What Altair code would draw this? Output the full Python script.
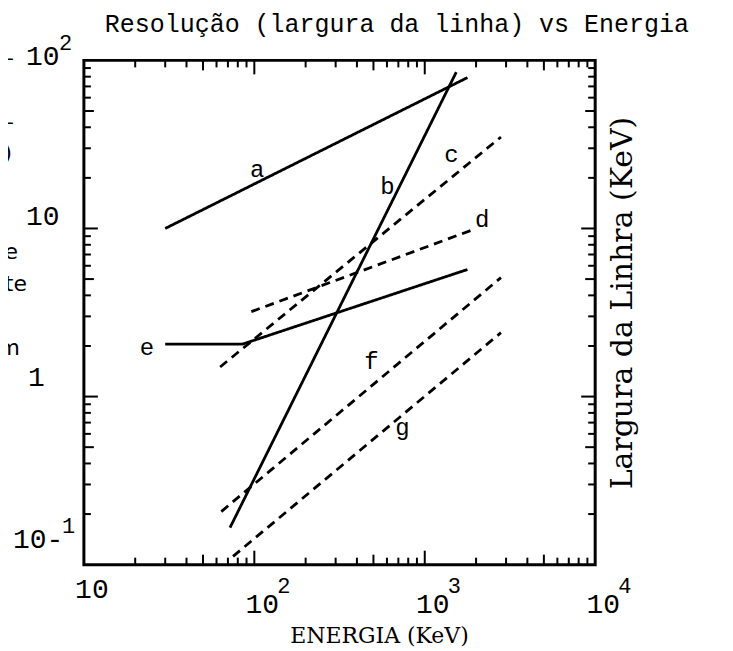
import altair as alt
import pandas as pd

# ---------------- data ----------------
series_names = ["a", "b", "c", "d", "e", "f", "g"]
series_style = ["solid", "solid", "dashed", "dashed", "solid", "dashed", "dashed"]
energy_a = [30, 1780]
width_a = [10, 79]
energy_b = [72, 1530]
width_b = [0.166, 85]
energy_c = [63, 2800]
width_c = [1.5, 35]
energy_d = [96, 1900]
width_d = [3.2, 9.8]
energy_e = [30, 85, 1780]
width_e = [2.05, 2.05, 5.7]
energy_f = [64, 2800]
width_f = [0.207, 5.1]
energy_g = [75, 2800]
width_g = [0.112, 2.4]

label_energy = [104, 604, 1432, 2173, 23.4, 486, 739]
label_width = [22.2, 17.6, 27.3, 11.2, 1.95, 1.61, 0.65]

x_label_values = [10, 100, 1000, 10000]
x_label_sup = ["", "2", "3", "4"]
y_label_values = [100, 10, 1, 0.1]
y_label_base = ["10", "10", "1", "10-"]
y_label_sup = ["2", "", "", "1"]

x_minor = [m * 10 ** k for k in range(1, 4) for m in (2, 3, 4, 6, 7, 8, 9)]
x_mid = [50, 500, 5000]
x_major = [100, 1000]
y_minor = [round(m * 10.0 ** k, 3) for k in range(-1, 2) for m in (2, 3, 4, 6, 7, 8, 9)]
y_mid = [0.5, 5, 50]
y_major = [1, 10]

title_text = "Resolução (largura da linha) vs Energia"
x_title = "ENERGIA (KeV)"
y_title = "Largura da Linhra (KeV)"
fragments = ["–", "–", ")", "e", "te", "m"]

# ---------------- layout / style ----------------
PW, PH = 512, 505
XMIN, XMAX, YMIN, YMAX = 10, 10000, 0.1, 100
MONO = "Liberation Mono"
SERIF = "DejaVu Serif"

xs = alt.Scale(type="log", domain=[XMIN, XMAX], nice=False, zero=False)
ys = alt.Scale(type="log", domain=[YMIN, YMAX], nice=False, zero=False)

energies = [energy_a, energy_b, energy_c, energy_d, energy_e, energy_f, energy_g]
widths = [width_a, width_b, width_c, width_d, width_e, width_f, width_g]
rows = []
for name, sty, E, Wv in zip(series_names, series_style, energies, widths):
    for i, (e, w) in enumerate(zip(E, Wv)):
        rows.append({"series": name, "style": sty, "E": e, "W": w, "i": i})
lines_df = pd.DataFrame(rows)


def X(f):
    return alt.X(f, scale=xs, axis=None)


def Y(f):
    return alt.Y(f, scale=ys, axis=None)


lines = alt.Chart(lines_df).mark_line(color="black", strokeWidth=2.8).encode(
    x=X("E:Q"),
    y=Y("W:Q"),
    detail="series:N",
    order="i:O",
    strokeDash=alt.StrokeDash(
        "style:N",
        scale=alt.Scale(domain=["solid", "dashed"], range=[[1, 0], [9, 6]]),
        legend=None,
    ),
)

labels_df = pd.DataFrame({"E": label_energy, "W": label_width, "t": series_names})
letters = alt.Chart(labels_df).mark_text(
    font=MONO, fontSize=24, color="black", align="center", baseline="middle"
).encode(x=X("E:Q"), y=Y("W:Q"), text="t:N")

layers = [lines, letters]

# inward frame ticks (length given in pixels, converted to log-decade fraction)
DEC_X = PW / 3.0
DEC_Y = PH / 3.0


def tick_layers(xv, yv, L):
    fy = 10 ** (L / DEC_Y)
    fx = 10 ** (L / DEC_X)
    tx = pd.DataFrame({"v": xv, "b0": YMIN, "b1": YMIN * fy, "t0": YMAX, "t1": YMAX / fy})
    ty = pd.DataFrame({"v": yv, "l0": XMIN, "l1": XMIN * fx, "r0": XMAX, "r1": XMAX / fx})
    bx = alt.Chart(tx).mark_rule(color="black", strokeWidth=2)
    by = alt.Chart(ty).mark_rule(color="black", strokeWidth=2)
    return [
        bx.encode(x=X("v:Q"), y=Y("b0:Q"), y2="b1:Q"),
        bx.encode(x=X("v:Q"), y=Y("t0:Q"), y2="t1:Q"),
        by.encode(y=Y("v:Q"), x=X("l0:Q"), x2="l1:Q"),
        by.encode(y=Y("v:Q"), x=X("r0:Q"), x2="r1:Q"),
    ]


layers += tick_layers(x_minor, y_minor, 7)
layers += tick_layers(x_mid, y_mid, 10)
layers += tick_layers(x_major, y_major, 14)

# x tick labels
x_base_y = [PH + 33, PH + 48, PH + 48, PH + 48]
for v, s, by_ in zip(x_label_values, x_label_sup, x_base_y):
    d = pd.DataFrame({"v": [v], "b": ["10"], "s": [s]})
    layers.append(
        alt.Chart(d).mark_text(font=MONO, fontSize=28, align="center", baseline="alphabetic", dx=8, color="black")
        .encode(x=X("v:Q"), y=alt.value(by_), text="b:N")
    )
    if s:
        layers.append(
            alt.Chart(d).mark_text(font=MONO, fontSize=22, align="left", baseline="alphabetic", dx=23, color="black")
            .encode(x=X("v:Q"), y=alt.value(by_ - 20), text="s:N")
        )

# y tick labels
y_left = [-58, -58, -56, -71]
y_dy = [-3, -11, -19, -25]
for v, b, s, xl, dyy in zip(y_label_values, y_label_base, y_label_sup, y_left, y_dy):
    d = pd.DataFrame({"v": [v], "b": [b], "s": [s]})
    layers.append(
        alt.Chart(d).mark_text(font=MONO, fontSize=28, align="left", baseline="middle", dy=dyy, color="black")
        .encode(y=Y("v:Q"), x=alt.value(xl), text="b:N")
    )
    if s:
        layers.append(
            alt.Chart(d).mark_text(font=MONO, fontSize=22, align="left", baseline="middle", dy=dyy - 14, color="black")
            .encode(y=Y("v:Q"), x=alt.value(xl + 16 * len(b) + 1), text="s:N")
        )

# titles
tdf = pd.DataFrame({"t": [title_text]})
layers.append(
    alt.Chart(tdf).mark_text(font=MONO, fontSize=25, align="left", baseline="alphabetic", color="black")
    .encode(x=alt.value(21), y=alt.value(-28), text="t:N")
)
xt = pd.DataFrame({"t": [x_title]})
layers.append(
    alt.Chart(xt).mark_text(font=SERIF, fontSize=22, align="center", baseline="middle", color="black")
    .encode(x=alt.value(296), y=alt.value(PH + 71), text="t:N")
)
yt = pd.DataFrame({"t": [y_title]})
layers.append(
    alt.Chart(yt).mark_text(font=SERIF, fontSize=30, align="center", baseline="middle", angle=270, color="black")
    .encode(x=alt.value(540), y=alt.value(243), text="t:N")
)

# cut-off text fragments at the left edge of the scan
frag_x = [-70, -70, -72, -66, -57, -64]
frag_y = [-2, 62, 93, 192, 224, 288]
for t, fx, fy in zip(fragments, frag_x, frag_y):
    fd = pd.DataFrame({"t": [t]})
    layers.append(
        alt.Chart(fd).mark_text(font="DejaVu Sans", fontSize=22, align="right", baseline="middle", color="black")
        .encode(x=alt.value(fx), y=alt.value(fy), text="t:N")
    )

chart = (
    alt.layer(*layers)
    .properties(
        width=PW,
        height=PH,
        autosize=alt.AutoSizeParams(type="none"),
        padding={"left": 76, "top": 52, "right": 130, "bottom": 85},
        background="white",
    )
    .configure_view(stroke="black", strokeWidth=3)
)

chart.save("out.html", embed_options={"renderer": "svg", "actions": False})
